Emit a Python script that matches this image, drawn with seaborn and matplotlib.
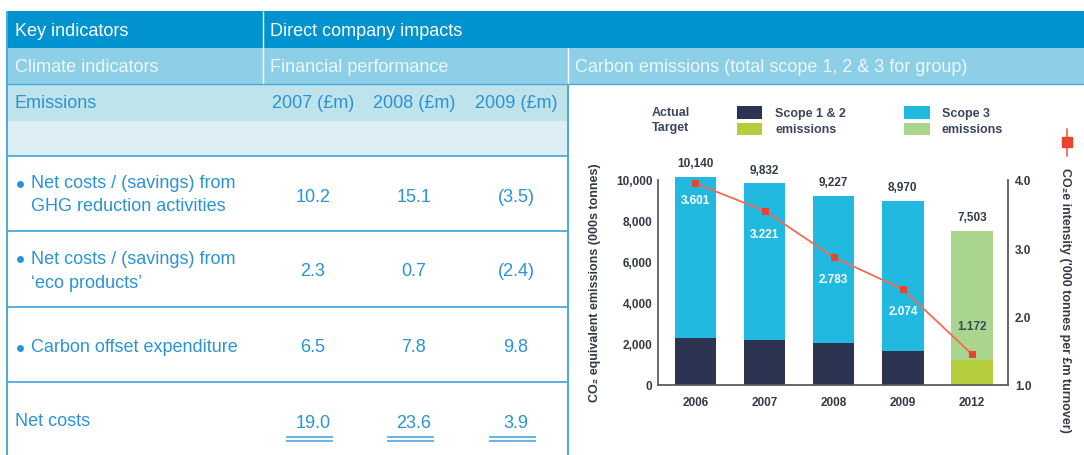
import matplotlib
matplotlib.use('Agg')
import matplotlib.pyplot as plt
import seaborn as sns
import numpy as np
from matplotlib.patches import Rectangle
from matplotlib.lines import Line2D

# ---------------- data ----------------
years = ['2006', '2007', '2008', '2009', '2012']
total_emissions = [10140, 9832, 9227, 8970, 7503]
scope12_emissions = [2300, 2200, 2050, 1650, 1200]
intensity_line = [3.95, 3.55, 2.87, 2.40, 1.45]
intensity_labels = ['3.601', '3.221', '2.783', '2.074', '1.172']
total_labels = ['10,140', '9,832', '9,227', '8,970', '7,503']
left_ticks = [0, 2000, 4000, 6000, 8000, 10000]
right_ticks = [1.0, 2.0, 3.0, 4.0]

table_headers = ['2007 (£m)', '2008 (£m)', '2009 (£m)']
row_labels = [['Net costs / (savings) from', 'GHG reduction activities'],
              ['Net costs / (savings) from', '‘eco products’'],
              ['Carbon offset expenditure']]
row_values = [['10.2', '15.1', '(3.5)'],
              ['2.3', '0.7', '(2.4)'],
              ['6.5', '7.8', '9.8']]
net_costs = ['19.0', '23.6', '3.9']

# ---------------- style ----------------
sns.set_theme(style='white')
plt.rcParams['font.family'] = ['Liberation Sans', 'DejaVu Sans']

W, H = 1084, 456
fig = plt.figure(figsize=(W / 100, H / 100), dpi=100)
fig.patch.set_facecolor('white')


def fx(x):
    return x / W


def fy(y):
    return 1 - y / H


def rect(x0, y0, x1, y1, color):
    fig.add_artist(Rectangle((fx(x0), fy(y1)), (x1 - x0) / W, (y1 - y0) / H,
                             transform=fig.transFigure, facecolor=color,
                             edgecolor='none', lw=0, zorder=0))


def line(x0, y0, x1, y1, color, lw=1.0):
    fig.add_artist(Line2D([fx(x0), fx(x1)], [fy(y0), fy(y1)],
                          transform=fig.transFigure, color=color, lw=lw,
                          solid_capstyle='butt', zorder=2))


def text(x, y, s, **kw):
    fig.text(fx(x), fy(y), s, va='center', **kw)


c_row1 = '#0093cf'
c_row2 = '#8ccfe6'
c_row3 = '#bfe3ea'
c_row4 = '#deeef5'
c_line = '#4ba9de'
c_text = '#2a93d5'
TFS = 13

# ---------------- table ----------------
rect(7, 12, W, 49, c_row1)
rect(7, 49, W, 85, c_row2)
rect(7, 85, 568, 122, c_row3)
rect(7, 122, 568, 157, c_row4)
line(263, 12, 263, 85, 'white', 1.0)
line(568, 49, 568, 85, 'white', 1.0)
line(7, 85, W, 85, c_line, 1.0)
line(7, 12, 7, H, c_line, 1.4)
line(568, 85, 568, H, c_line, 1.4)
for yy in [157, 232, 308, 383]:
    line(7, yy, 568, yy, c_line, 1.3)

text(15, 31, 'Key indicators', color='white', fontsize=TFS)
text(270, 31, 'Direct company impacts', color='white', fontsize=TFS)
text(15, 68, 'Climate indicators', color='#eef8fc', fontsize=TFS)
text(270, 68, 'Financial performance', color='#eef8fc', fontsize=TFS)
text(575, 68, 'Carbon emissions (total scope 1, 2 & 3 for group)',
     color='#eef8fc', fontsize=TFS)
text(15, 104, 'Emissions', color=c_text, fontsize=TFS)

col_x = [313, 414, 516]
for cx, h in zip(col_x, table_headers):
    text(cx, 104, h, color=c_text, fontsize=TFS, ha='center')

row_line_y = [[184, 207], [259, 283], [348]]
row_val_y = [197, 271, 348]
for labels, ys, vals, vy in zip(row_labels, row_line_y, row_values, row_val_y):
    fig.add_artist(Line2D([fx(20)], [fy(ys[0] + 1)], transform=fig.transFigure,
                          marker='o', markersize=4, color=c_text, lw=0))
    for lab, yy in zip(labels, ys):
        text(31, yy, lab, color=c_text, fontsize=TFS)
    for cx, v in zip(col_x, vals):
        text(cx, vy, v, color=c_text, fontsize=TFS, ha='center')

text(15, 422, 'Net costs', color=c_text, fontsize=TFS)
for cx, v in zip(col_x, net_costs):
    text(cx, 423, v, color=c_text, fontsize=TFS, ha='center')
    line(cx - 27, 438, cx + 20, 438, c_line, 1.2)
    line(cx - 27, 441.5, cx + 20, 441.5, c_line, 1.2)

# ---------------- chart ----------------
top_val = 10600
ax_h = 205 * top_val / 10000
ax = fig.add_axes([fx(658), fy(386), (1008 - 658) / W, ax_h / H])
ax.set_facecolor('none')

scope3_pal = ['#22b9e1', '#22b9e1', '#22b9e1', '#22b9e1', '#a9d58f']
scope12_pal = ['#2d3452', '#2d3452', '#2d3452', '#2d3452', '#b4cd3c']

sns.barplot(x=years, y=total_emissions, hue=years, palette=scope3_pal,
            legend=False, width=0.6, saturation=1, linewidth=0, ax=ax)
sns.barplot(x=years, y=scope12_emissions, hue=years, palette=scope12_pal,
            legend=False, width=0.6, saturation=1, linewidth=0, ax=ax)

dark = '#333a45'
CFS = 8.5
ax.set_ylim(0, top_val)
ax.set_xlim(-0.54, 4.52)
ax.set_yticks(left_ticks)
ax.set_yticklabels([f'{t:,}' for t in left_ticks], fontsize=CFS,
                   fontweight='bold', color=dark)
ax.set_xticks(range(len(years)))
ax.set_xticklabels(years, fontsize=CFS, fontweight='bold', color=dark)
ax.tick_params(axis='both', length=0)
ax.tick_params(axis='y', pad=4)
ax.tick_params(axis='x', pad=8)
ax.set_xlabel('')
ax.set_ylabel('')
for s in ['top', 'right']:
    ax.spines[s].set_visible(False)
ax.spines['left'].set_bounds(0, 10000)
for s in ['left', 'bottom']:
    ax.spines[s].set_color('#5a5a5a')
    ax.spines[s].set_linewidth(1.3)

label_y = [9000, 7350, 5150, 3600, 2900]
for i, (lbl, yy) in enumerate(zip(intensity_labels, label_y)):
    ax.text(i, yy, lbl, ha='center', va='center', fontsize=CFS,
            fontweight='bold', color='white' if i < 4 else '#3d4a52')
for i, (lbl, tv) in enumerate(zip(total_labels, total_emissions)):
    ax.annotate(lbl, (i, tv), xytext=(0, 10), textcoords='offset points',
                ha='center', va='center', fontsize=CFS, fontweight='bold',
                color=dark, annotation_clip=False)

ax2 = ax.twinx()
sns.lineplot(x=np.arange(len(years)), y=intensity_line, ax=ax2,
             color='#f26b50', lw=1.3, marker='s', markersize=5,
             markerfacecolor='#e8442f', markeredgecolor='#e8442f')
ax2.set_ylim(1.0, 1.0 + 3.0 * top_val / 10000)
ax2.set_xlim(-0.54, 4.52)
ax2.set_yticks(right_ticks)
ax2.set_yticklabels([f'{t:.1f}' for t in right_ticks], fontsize=CFS,
                    fontweight='bold', color=dark)
ax2.tick_params(axis='y', length=0, pad=5)
for s in ['top', 'left', 'bottom']:
    ax2.spines[s].set_visible(False)
ax2.spines['right'].set_bounds(1.0, 4.0)
ax2.spines['right'].set_color('#5a5a5a')
ax2.spines['right'].set_linewidth(1.3)

# axis titles
text(595, 283, 'CO₂ equivalent emissions (000s tonnes)', rotation=90,
     ha='center', fontsize=9, fontweight='bold', color=dark)
text(1065, 300, 'CO₂e intensity (\'000 tonnes per £m turnover)', rotation=270,
     ha='center', fontsize=9, fontweight='bold', color=dark)

# intensity legend marker
fig.add_artist(Line2D([fx(1067), fx(1067)], [fy(130), fy(157)],
                      transform=fig.transFigure, color='#f26b50', lw=1.3))
fig.add_artist(Line2D([fx(1067)], [fy(143)], transform=fig.transFigure,
                      marker='s', markersize=7, color='#e8442f', lw=0))

# legend
lfs = 9
leg_col = '#3b4560'
text(652, 113, 'Actual', fontsize=lfs, fontweight='bold', color=leg_col)
text(652, 128, 'Target', fontsize=lfs, fontweight='bold', color=leg_col)
rect(737, 107, 762, 120, scope12_pal[0])
rect(737, 124, 762, 136, scope12_pal[4])
rect(904, 107, 930, 120, scope3_pal[0])
rect(904, 124, 930, 136, scope3_pal[4])
text(775, 114, 'Scope 1 & 2', fontsize=lfs, fontweight='bold', color=leg_col)
text(775, 130, 'emissions', fontsize=lfs, fontweight='bold', color=leg_col)
text(942, 114, 'Scope 3', fontsize=lfs, fontweight='bold', color=leg_col)
text(942, 130, 'emissions', fontsize=lfs, fontweight='bold', color=leg_col)

fig.savefig('out.png', dpi=100, facecolor='white')
